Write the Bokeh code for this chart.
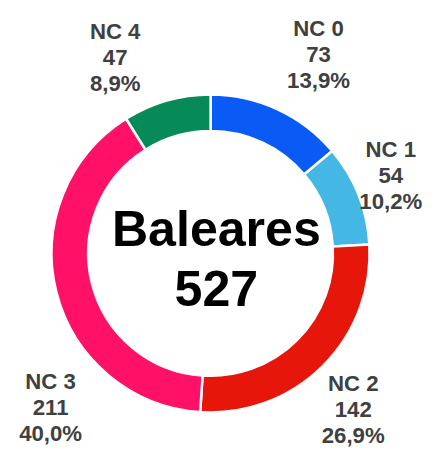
import math
from bokeh.plotting import figure
from bokeh.models import Range1d, ColumnDataSource
from bokeh.core.properties import value
from bokeh.embed import file_html
from bokeh.resources import INLINE

# ---- data ----
categories = ["NC 0", "NC 1", "NC 2", "NC 3", "NC 4"]
counts = [73, 54, 142, 211, 47]
region = "Baleares"
colors = ["#0A5AF5", "#45B7E5", "#E6170A", "#FF1167", "#068B58"]

# ---- layout (reference pixel coordinates, y downward) ----
W, H = 425, 447           # figure size in the page
REF_W, REF_H = 441, 463   # coordinate frame of the reference picture
cx_ref, cy_ref = 218, 262
outer_r, inner_r = 165, 127
label_x = [330, 405, 366, 52, 119]
label_y0 = [29, 154, 397, 395, 32]   # first-line baselines
line_gap = 27
center_x = 224
center_base = [237, 298]
scale = W / REF_W

def Y(y_ref):
    return REF_H - y_ref

total = sum(counts)
fr = [c / total for c in counts]
starts, ends = [], []
acc = 0.0
for f in fr:
    starts.append(math.pi / 2 - acc * 2 * math.pi)
    acc += f
    ends.append(math.pi / 2 - acc * 2 * math.pi)

p = figure(width=W, height=H, output_backend="svg", toolbar_location=None,
           x_range=Range1d(0, REF_W), y_range=Range1d(0, REF_H),
           min_border=0, outline_line_color=None, background_fill_color="white")
p.axis.visible = False
p.grid.visible = False

src = ColumnDataSource(dict(x=[cx_ref] * len(counts), y=[Y(cy_ref)] * len(counts),
                            start=starts, end=ends, color=colors))
p.annular_wedge(x="x", y="y", inner_radius=inner_r, outer_radius=outer_r,
                start_angle="start", end_angle="end", direction="clock",
                fill_color="color", line_color="white", line_width=2.5, source=src)

# labels
lx, ly, lt = [], [], []
for i, (cat, c) in enumerate(zip(categories, counts)):
    pct = f"{100 * c / total:.1f}%".replace(".", ",")
    for j, t in enumerate([cat, str(c), pct]):
        lx.append(label_x[i])
        ly.append(Y(label_y0[i] + j * line_gap))
        lt.append(t)
p.text(x=lx, y=ly, text=lt, text_align="center", text_baseline="alphabetic",
       text_font=value("Liberation Sans"), text_font_style="bold",
       text_font_size=f"{23 * scale:.1f}px", text_color="#404040")

# center text
p.text(x=[center_x, center_x], y=[Y(b) for b in center_base], text=[region, str(total)],
       text_align="center", text_baseline="alphabetic",
       text_font=value("Liberation Sans"), text_font_style="bold",
       text_font_size=f"{52 * scale:.1f}px", text_color="#000000")

open("out.html", "w").write(file_html(p, INLINE))
